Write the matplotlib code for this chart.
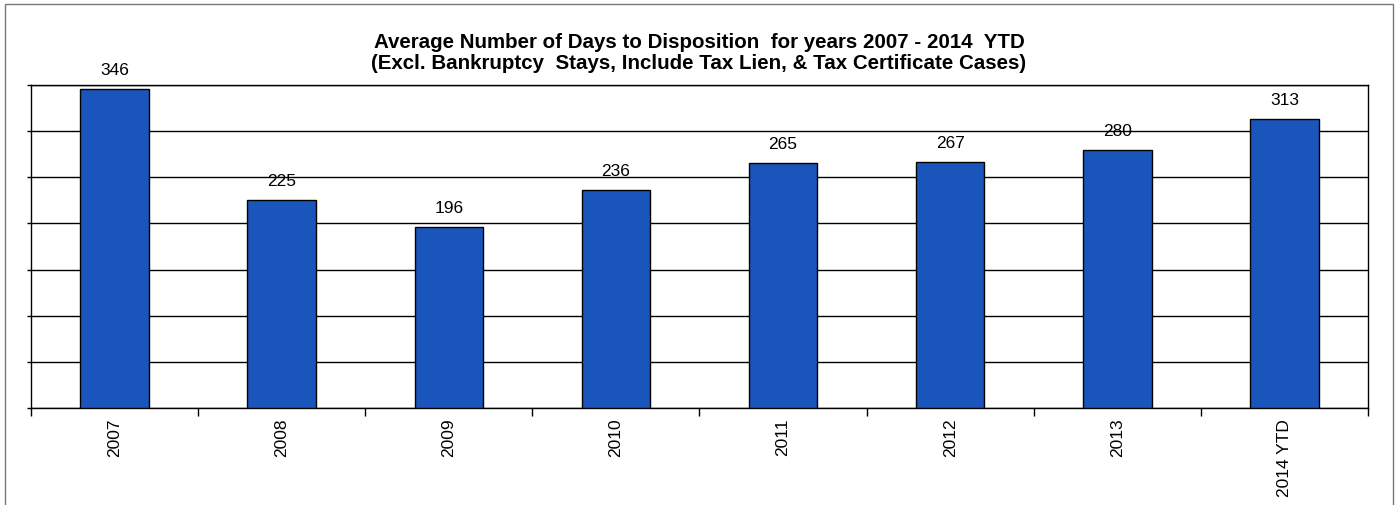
import matplotlib.pyplot as plt
from matplotlib.patches import Rectangle

# datos de la grafica
anios = ['2007', '2008', '2009', '2010', '2011', '2012', '2013', '2014 YTD']
dias = [346, 225, 196, 236, 265, 267, 280, 313]

plt.rcParams['font.family'] = ['Liberation Sans', 'DejaVu Sans']

fig = plt.figure(figsize=(13.98, 5.06), dpi=100)
ax = fig.add_axes([0.0222, 0.1917, 0.9563, 0.6383])

# marco exterior gris
fig.patches.append(Rectangle((5 / 1398, -0.05), 1388 / 1398, 1.04, transform=fig.transFigure,
                             fill=False, edgecolor='#777777', linewidth=1))

x = range(len(anios))
ax.bar(x, dias, width=0.41, color='#1a55bb', edgecolor='black', linewidth=1, zorder=3)

# etiquetas con el valor encima de cada barra
for i, d in enumerate(dias):
    ax.text(i, d + 13, str(d), ha='center', va='bottom', fontsize=12.5, zorder=4)

ax.set_ylim(0, 350)
ax.set_xlim(-0.5, len(anios) - 0.5)
ax.set_yticks(range(0, 351, 50))
ax.set_yticklabels([])
ax.tick_params(axis='y', length=3, width=1, direction='out')
ax.yaxis.grid(True, color='black', linewidth=1, zorder=0)

# marcas del eje x entre categorias
ax.set_xticks([i - 0.5 for i in range(len(anios) + 1)])
ax.set_xticklabels([])
ax.set_xticks(list(x), minor=True)
ax.set_xticklabels(anios, minor=True, rotation=90, fontsize=12.5, va='top')
ax.tick_params(axis='x', which='major', length=6, width=1, direction='out')
ax.tick_params(axis='x', which='minor', length=0, pad=7)

for s in ax.spines.values():
    s.set_color('black')
    s.set_linewidth(1)

fig.text(0.5, 0.895, 'Average Number of Days to Disposition  for years 2007 - 2014  YTD\n'
         '(Excl. Bankruptcy  Stays, Include Tax Lien, & Tax Certificate Cases)',
         ha='center', va='center', fontsize=14.8, fontweight='bold', linespacing=1.15)

fig.savefig('out.png', dpi=100)
